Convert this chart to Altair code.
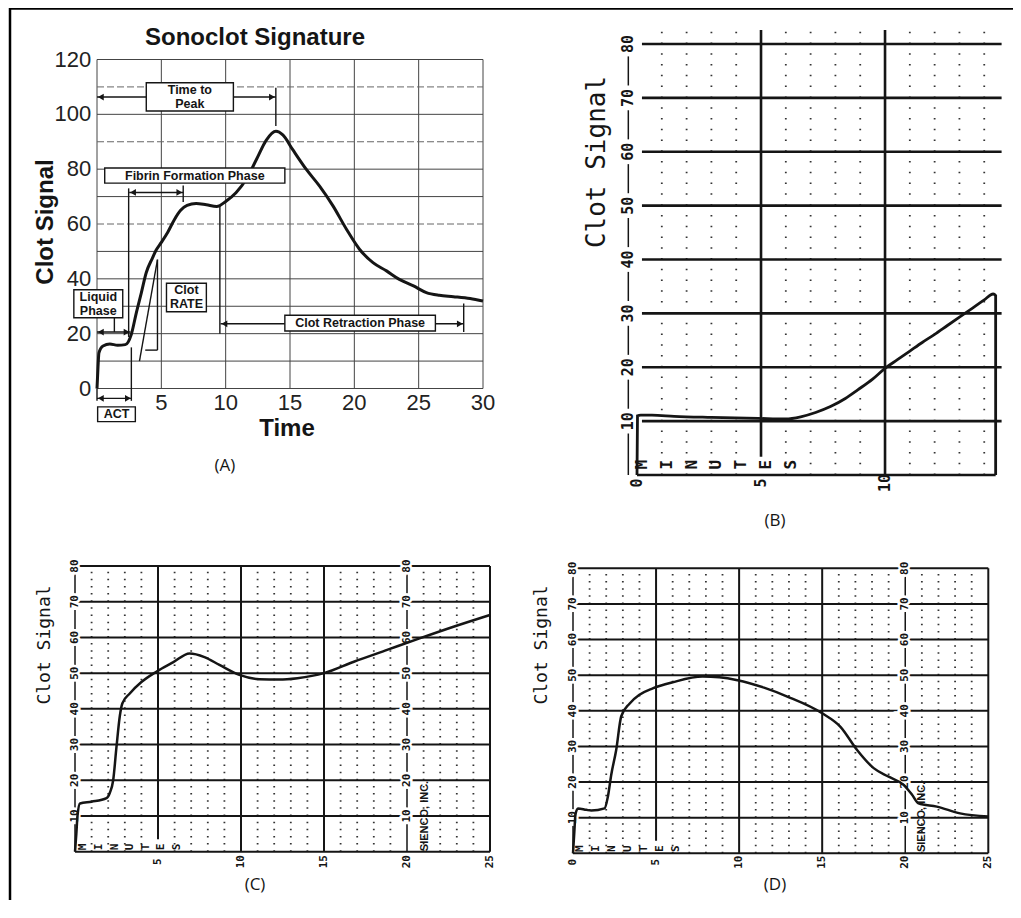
import altair as alt
import pandas as pd

# ---------------- Panel A : Sonoclot Signature ----------------
a_time = [0.0, 0.08, 0.15, 0.47, 1.0, 1.6, 2.2, 2.67, 3.06, 3.45, 3.83, 4.3, 4.6, 5.0, 5.5,
          6.0, 6.5, 7.0, 7.7, 8.5, 9.3, 10.05, 10.8, 11.6, 12.4, 13.16, 13.9, 14.46, 15.2, 16.27,
          17.3, 18.34, 19.4, 20.4, 21.45, 22.5, 23.5, 24.6, 25.6, 26.6, 27.7, 29.0, 30.0]
a_signal = [0.0, 8.0, 13.0, 15.5, 16.2, 15.8, 16.0, 19.8, 27.7, 35.0, 42.3, 47.5, 50.5, 53.3, 57.0,
            61.5, 65.0, 66.8, 67.5, 67.0, 66.4, 68.4, 71.4, 76.3, 83.6, 90.6, 93.8, 92.4, 87.2, 79.9,
            73.8, 66.6, 58.0, 50.8, 45.9, 42.9, 39.8, 37.4, 35.0, 34.0, 33.5, 32.8, 31.9]
a_x_ticks = [5, 10, 15, 20, 25, 30]
a_y_ticks = [0, 20, 40, 60, 80, 100, 120]
a_vgrid = [0, 5, 10, 15, 20, 25, 30]
a_hgrid_solid = [0, 10, 20, 30, 40, 50, 70, 80, 100, 120]
a_hgrid_dashed = [60, 90, 110]

a_box_labels = ["Time to\nPeak", "Fibrin Formation Phase", "Liquid\nPhase", "Clot\nRATE",
                "Clot Retraction Phase", "ACT"]
a_box_x1 = [3.83, 0.6, -1.8, 5.4, 14.6, 0.05]
a_box_x2 = [10.6, 14.6, 2.0, 8.5, 26.3, 2.98]
a_box_y1 = [101.2, 74.9, 25.8, 28.0, 21.0, -12.1]
a_box_y2 = [111.5, 80.4, 36.0, 38.4, 26.7, -6.7]

a_arrow_start = [0.0, 2.5, 0.0, 0.0, 9.6]
a_arrow_end = [13.9, 6.7, 2.6, 2.7, 28.5]
a_arrow_level = [106.3, 71.5, 20.6, -3.6, 23.6]

a_mark_x = [13.9, 2.46, 6.7, 2.67, 0.0, 9.55, 28.5, 1.35, 4.7]
a_mark_lo = [95.7, 18.8, 68.0, -4.5, -4.5, 20.0, 20.6, 20.6, 14.0]
a_mark_hi = [109.7, 73.0, 74.0, 15.0, 0.0, 66.7, 31.0, 25.8, 47.0]

a_rate_x1 = [3.3, 3.75]
a_rate_x2 = [4.7, 4.7]
a_rate_y1 = [10.0, 14.0]
a_rate_y2 = [47.0, 14.0]

# ---------------- Panels B, C, D : strip-chart recordings ----------------
b_time = [0.0, 0.02, 0.15, 0.6, 1.5, 3.0, 4.9, 6.0, 6.6, 7.2, 7.8, 8.4, 8.9, 9.5, 10.0,
          10.5, 11.0, 11.5, 12.0, 12.5, 13.0, 13.5, 14.0, 14.36, 14.46, 14.46]
b_signal = [0.0, 11.0, 11.1, 11.1, 10.9, 10.7, 10.5, 10.4, 10.8, 11.6, 12.7, 14.2, 15.8, 17.8, 19.8,
            21.4, 23.0, 24.6, 26.1, 27.7, 29.3, 30.9, 32.5, 33.6, 33.3, 0.0]

c_time = [0.0, 0.08, 0.15, 0.3, 1.0, 1.9, 2.1, 2.3, 2.5, 2.7, 2.85, 3.3, 4.0, 4.9, 5.9, 6.9,
          7.8, 8.7, 9.9, 11.1, 12.3, 13.4, 15.0, 16.8, 18.8, 20.8, 22.8, 25.0]
c_signal = [0.0, 5.0, 10.0, 13.5, 14.0, 15.0, 16.5, 20.0, 29.4, 38.0, 41.5, 44.3, 47.5, 50.4, 53.0, 55.5,
            54.5, 52.3, 49.5, 48.3, 48.2, 48.6, 50.0, 53.2, 56.5, 59.8, 63.0, 66.3]

d_time = [0.0, 0.08, 0.15, 0.3, 0.8, 1.1, 1.9, 2.1, 2.3, 2.6, 2.9, 3.4, 4.0, 4.8, 6.0, 7.8,
          8.8, 9.9, 11.5, 12.9, 15.0, 16.1, 17.1, 18.1, 19.0, 19.9, 20.4, 20.8, 21.9, 23.3, 25.0]
d_signal = [0.0, 6.0, 11.0, 12.6, 12.2, 12.0, 12.6, 15.9, 22.0, 29.0, 38.4, 42.0, 44.5, 46.3, 48.0, 49.6,
            49.4, 48.6, 46.5, 44.0, 39.3, 35.5, 29.0, 23.9, 21.5, 19.2, 16.5, 14.0, 13.1, 11.2, 10.3]

strip_levels = [10, 20, 30, 40, 50, 60, 70, 80]
b_minor = [1, 2, 3, 4, 6, 7, 8, 9, 11, 12, 13, 14]
cd_minor = [1, 2, 3, 4, 6, 7, 8, 9, 11, 12, 13, 14, 16, 17, 18, 19, 21, 22, 23, 24]
b_x_ticks = [0, 5, 10]
c_x_ticks = [5, 10, 15, 20, 25]
d_x_ticks = [0, 5, 10, 15, 20, 25]
minutes_letters = list("MINUTES")

W, H = 1005, 892
INK = "#151515"


def lin(dom, rng):
    return alt.Scale(domain=dom, range=rng, nice=False, zero=False)


# ---------------- build panel A ----------------
A_PX_PER_UNIT_Y = (380.5 - 51.5) / 120
sxA = lin([0, 30], [89, 475])
syA = lin([0, 120], [380.5, 51.5])


def XA(f):
    return alt.X(f, type="quantitative", scale=sxA, axis=None)


def YA(f):
    return alt.Y(f, type="quantitative", scale=syA, axis=None)


a_curve = pd.DataFrame({"t": a_time, "s": a_signal, "i": range(len(a_time))})
vgrid = pd.DataFrame({"x": a_vgrid, "y1": 0, "y2": 120})
hgrid_s = pd.DataFrame({"y": a_hgrid_solid, "x1": 0, "x2": 30})
hgrid_d = pd.DataFrame({"y": a_hgrid_dashed, "x1": 0, "x2": 30})

seg_x1 = a_arrow_start + a_mark_x + a_rate_x1
seg_x2 = a_arrow_end + a_mark_x + a_rate_x2
seg_y1 = a_arrow_level + a_mark_lo + a_rate_y1
seg_y2 = a_arrow_level + a_mark_hi + a_rate_y2
segs = pd.DataFrame({"x1": seg_x1, "x2": seg_x2, "y1": seg_y1, "y2": seg_y2})

LINE_H = 14
boxes = pd.DataFrame({"x1": a_box_x1, "x2": a_box_x2, "y1": a_box_y1, "y2": a_box_y2,
                      "label": a_box_labels})
boxes["xc"] = (boxes["x1"] + boxes["x2"]) / 2
boxes["nl"] = boxes["label"].str.count("\n")
# first line of a multi-line label sits half a line-height above the box centre
boxes["yc"] = (boxes["y1"] + boxes["y2"]) / 2 + boxes["nl"] * (LINE_H / 2) / A_PX_PER_UNIT_Y

heads_l = pd.DataFrame({"x": [v + 0.3 for v in a_arrow_start], "y": a_arrow_level})
heads_r = pd.DataFrame({"x": [v - 0.3 for v in a_arrow_end], "y": a_arrow_level})

ytick_df = pd.DataFrame({"v": a_y_ticks, "p": -0.45, "lab": [str(v) for v in a_y_ticks]})
xtick_df = pd.DataFrame({"v": a_x_ticks, "p": -5.3, "lab": [str(v) for v in a_x_ticks]})

panelA = alt.layer(
    alt.Chart(vgrid).mark_rule(color="#444", strokeWidth=1).encode(
        x=XA("x"), y=YA("y1"), y2=alt.Y2("y2")),
    alt.Chart(hgrid_s).mark_rule(color="#444", strokeWidth=1).encode(
        x=XA("x1"), x2=alt.X2("x2"), y=YA("y")),
    alt.Chart(hgrid_d).mark_rule(color="#666", strokeWidth=1, strokeDash=[7, 3]).encode(
        x=XA("x1"), x2=alt.X2("x2"), y=YA("y")),
    alt.Chart(segs).mark_rule(color=INK, strokeWidth=1.4).encode(
        x=XA("x1"), x2=alt.X2("x2"), y=YA("y1"), y2=alt.Y2("y2")),
    alt.Chart(a_curve).mark_line(color=INK, strokeWidth=3, interpolate="monotone").encode(
        x=XA("t"), y=YA("s"), order=alt.Order("i:Q")),
    alt.Chart(boxes).mark_rect(fill="white", stroke=INK, strokeWidth=1.4).encode(
        x=XA("x1"), x2=alt.X2("x2"), y=YA("y1"), y2=alt.Y2("y2")),
    alt.Chart(boxes).mark_text(font="Liberation Sans", fontWeight="bold", fontSize=12.5,
                               lineBreak="\n", lineHeight=LINE_H, color=INK, baseline="middle").encode(
        x=XA("xc"), y=YA("yc"), text="label:N"),
    alt.Chart(heads_l).mark_point(shape="triangle-left", filled=True, size=45, color=INK, opacity=1).encode(
        x=XA("x"), y=YA("y")),
    alt.Chart(heads_r).mark_point(shape="triangle-right", filled=True, size=45, color=INK, opacity=1).encode(
        x=XA("x"), y=YA("y")),
    alt.Chart(ytick_df).mark_text(font="Liberation Sans", fontSize=22, align="right", baseline="middle",
                                  color="#222").encode(x=XA("p"), y=YA("v"), text="lab:N"),
    alt.Chart(xtick_df).mark_text(font="Liberation Sans", fontSize=22, align="center", baseline="middle",
                                  color="#222").encode(x=XA("v"), y=YA("p"), text="lab:N"),
)


# ---------------- build strip panels ----------------
def strip_panel(time, signal, cfg):
    sx = lin(cfg["xdom"], cfg["xrng"])
    sy = lin([0, 80], cfg["yrng"])

    def X(f):
        return alt.X(f, type="quantitative", scale=sx, axis=None)

    def Y(f):
        return alt.Y(f, type="quantitative", scale=sy, axis=None)

    dots = pd.DataFrame({"x": cfg["minor"], "y1": 0, "y2": cfg["dot_top"]})
    hl = pd.DataFrame({"y": [0] + strip_levels,
                       "x1": [0] + [cfg["h_x1"]] * len(strip_levels),
                       "x2": [cfg["base_x2"]] + [cfg["h_x2"]] * len(strip_levels)})
    vl = pd.DataFrame({"x": cfg["v_x"], "y1": cfg["v_y1"], "y2": cfg["v_y2"]})
    lo = [0] + [v + 2.3 for v in strip_levels[:-1]]
    hi = [7.7] + [v + 7.7 for v in strip_levels[:-1]]
    colseg = pd.DataFrame([{"x": cx, "y1": a, "y2": b} for cx in cfg["col_x"] for a, b in zip(lo, hi)])
    collab = pd.DataFrame([{"x": cx, "y": v, "lab": str(v)} for cx in cfg["col_x"] for v in strip_levels])
    xlab = pd.DataFrame({"x": cfg["xticks"], "y": cfg["xlab_y"], "lab": [str(v) for v in cfg["xticks"]]})
    mins = pd.DataFrame({"x": [cfg["min_x0"] + i * cfg["min_step"] for i in range(len(minutes_letters))],
                         "y": cfg["min_y"], "lab": minutes_letters})
    curve = pd.DataFrame({"t": time, "s": signal, "i": range(len(time))})

    mono = "DejaVu Sans Mono"
    layers = [
        alt.Chart(dots).mark_rule(color="#333", strokeWidth=1.8,
                                  strokeDash=[1.5, cfg["dot_period"] - 1.5]).encode(
            x=X("x"), y=Y("y1"), y2=alt.Y2("y2")),
        alt.Chart(hl).mark_rule(color=INK, strokeWidth=cfg["heavy"]).encode(
            x=X("x1"), x2=alt.X2("x2"), y=Y("y")),
        alt.Chart(vl).mark_rule(color=INK, strokeWidth=cfg["heavy"]).encode(
            x=X("x"), y=Y("y1"), y2=alt.Y2("y2")),
        alt.Chart(colseg).mark_rule(color=INK, strokeWidth=1.5).encode(
            x=X("x"), y=Y("y1"), y2=alt.Y2("y2")),
        alt.Chart(collab).mark_text(font=mono, fontWeight="bold", fontSize=cfg["tick_fs"], angle=270,
                                    stroke="white", strokeWidth=5, color="white").encode(
            x=X("x"), y=Y("y"), text="lab:N"),
        alt.Chart(collab).mark_text(font=mono, fontWeight="bold", fontSize=cfg["tick_fs"], angle=270,
                                    color=INK).encode(x=X("x"), y=Y("y"), text="lab:N"),
        alt.Chart(xlab).mark_text(font=mono, fontWeight="bold", fontSize=cfg["tick_fs"], angle=270,
                                  color=INK).encode(x=X("x"), y=Y("y"), text="lab:N"),
        alt.Chart(mins).mark_text(font=mono, fontWeight="bold", fontSize=cfg["min_fs"], angle=270,
                                  color=INK).encode(x=X("x"), y=Y("y"), text="lab:N"),
        alt.Chart(curve).mark_line(color=INK, strokeWidth=cfg["curve_w"], interpolate="monotone").encode(
            x=X("t"), y=Y("s"), order=alt.Order("i:Q")),
    ]
    if cfg.get("sienco"):
        sdf = pd.DataFrame({"x": [cfg["sienco"][0]], "y": [cfg["sienco"][1]], "lab": ["SIENCO, INC."]})
        layers.append(alt.Chart(sdf).mark_text(font="Liberation Sans", fontWeight="bold", fontSize=11,
                                               angle=270, color=INK).encode(
            x=X("x"), y=Y("y"), text="lab:N"))
    return alt.layer(*layers)


panelB = strip_panel(b_time, b_signal, dict(
    xdom=[0, 14.7], xrng=[629, 993.6], yrng=[467, 36], minor=b_minor, dot_top=82.5,
    dot_period=2 * 431 / 80, h_x1=0.2, h_x2=14.7, base_x2=14.46,
    v_x=[5, 10], v_y1=[3.4, 0], v_y2=[82.6, 82.6], col_x=[-0.35], xticks=b_x_ticks, xlab_y=-1.5,
    min_x0=0.2, min_step=1.0, min_y=1.9, tick_fs=15, min_fs=16, heavy=2.6, curve_w=2.8))

panelC = strip_panel(c_time, c_signal, dict(
    xdom=[0, 25], xrng=[67, 482], yrng=[843.7, 558], minor=cd_minor, dot_top=80,
    dot_period=2 * 285.7 / 80, h_x1=0.15, h_x2=25, base_x2=25,
    v_x=[5, 10, 15, 25], v_y1=[3.5, 0, 0, 0], v_y2=[80, 80, 80, 80], col_x=[0, 20],
    xticks=c_x_ticks, xlab_y=-2.8, min_x0=0.5, min_step=0.94, min_y=1.3, tick_fs=11, min_fs=11,
    heavy=2.0, curve_w=2.5, sienco=(21.1, 10.0)))

panelD = strip_panel(d_time, d_signal, dict(
    xdom=[0, 25], xrng=[565, 980.3], yrng=[845.3, 560.3], minor=cd_minor, dot_top=80,
    dot_period=2 * 285 / 80, h_x1=0.15, h_x2=25, base_x2=25,
    v_x=[5, 10, 15, 25], v_y1=[3.5, 0, 0, 0], v_y2=[80, 80, 80, 80], col_x=[0, 20],
    xticks=d_x_ticks, xlab_y=-2.5, min_x0=0.4, min_step=0.97, min_y=1.3, tick_fs=11, min_fs=11,
    heavy=2.0, curve_w=2.5, sienco=(21.0, 10.2)))

# ---------------- titles, axis titles, panel letters, frame ----------------
one = pd.DataFrame({"k": [0]})


def label(text, x, y, size, font="Liberation Sans", weight="normal", angle=0):
    kw = dict(font=font, fontSize=size, fontWeight=weight, color=INK, align="center", baseline="middle")
    if angle:
        kw["angle"] = angle
    return alt.Chart(one).mark_text(text=text, **kw).encode(x=alt.value(x), y=alt.value(y))


texts = [
    label("Sonoclot Signature", 247, 30, 24, weight="bold"),
    label("Clot Signal", 38, 214, 24, weight="bold", angle=270),
    label("Time", 279, 421, 24, weight="bold"),
    label("Clot Signal", 589, 154, 26, font="DejaVu Sans Mono", angle=270),
    label("Clot Signal", 37, 637, 18, font="DejaVu Sans Mono", angle=270),
    label("Clot Signal", 534, 637, 18, font="DejaVu Sans Mono", angle=270),
    label("(A)", 217, 458, 17, font="Open Sans"),
    label("(B)", 767, 513, 17, font="Open Sans"),
    label("(C)", 247, 877, 17, font="Open Sans"),
    label("(D)", 767, 877, 17, font="Open Sans"),
]

frame = [
    alt.Chart(one).mark_rule(color="black", strokeWidth=2.5).encode(
        x=alt.value(2), y=alt.value(0), y2=alt.value(H)),
    alt.Chart(one).mark_rule(color="black", strokeWidth=2.5).encode(
        x=alt.value(2), x2=alt.value(W), y=alt.value(0.5)),
]

chart = alt.layer(
    *frame, panelA, panelB, panelC, panelD, *texts
).resolve_scale(
    x="independent", y="independent"
).properties(
    width=W, height=H, padding=0, autosize=alt.AutoSizeParams(type="none"), background="white"
).configure_view(strokeWidth=0)

chart.save("out.html", embed_options={"renderer": "svg", "actions": False})
